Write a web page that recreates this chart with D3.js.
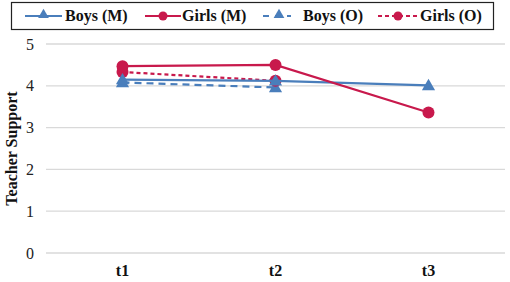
<!DOCTYPE html>
<html>
<head>
<meta charset="utf-8">
<script src="https://cdn.jsdelivr.net/npm/d3@7"></script>
<style>
  body { margin: 0; background: #fff; }
</style>
</head>
<body>
<div id="chart"></div>
<script>
// data
const times = ["t1", "t2", "t3"];
const yTicks = [0, 1, 2, 3, 4, 5];
const boysM = [4.15, 4.12, 4.01];
const girlsM = [4.47, 4.50, 3.36];
const boysO = [4.08, 3.96];
const girlsO = [4.33, 4.12];

const blue = "#4a7ebb", red = "#c8194c";
const serif = "'Liberation Serif', 'Times New Roman', serif";

const series = [
  {name: "Boys (M)", values: boysM, color: blue, dash: null, mark: "tri"},
  {name: "Girls (M)", values: girlsM, color: red, dash: null, mark: "circle"},
  {name: "Boys (O)", values: boysO, color: blue, dash: "7,5", mark: "tri"},
  {name: "Girls (O)", values: girlsO, color: red, dash: "4,3", mark: "circle"}
];

const W = 510, H = 282;
const margin = {top: 44, right: 5, bottom: 29, left: 46};

const svg = d3.select("#chart").append("svg")
  .attr("width", W).attr("height", H);

const x = d3.scaleBand().domain(times).range([margin.left, W - margin.right]);
const y = d3.scaleLinear().domain([0, 5]).range([H - margin.bottom, margin.top]);

// gridlines
svg.append("g")
  .selectAll("line")
  .data(yTicks)
  .join("line")
    .attr("x1", margin.left).attr("x2", W - margin.right)
    .attr("y1", d => y(d)).attr("y2", d => y(d))
    .attr("stroke", "#d9d9d9").attr("stroke-width", 1.3);

// y axis
const yAxis = svg.append("g")
  .attr("transform", `translate(${margin.left - 12},0)`)
  .call(d3.axisLeft(y).tickValues(yTicks).tickFormat(d3.format("d")).tickSize(0).tickPadding(0));
yAxis.select(".domain").remove();
yAxis.selectAll("text").style("font", `16px ${serif}`).attr("fill", "#222");

// x axis
const xAxis = svg.append("g")
  .attr("transform", `translate(0,${H - margin.bottom})`)
  .call(d3.axisBottom(x).tickSize(0).tickPadding(12));
xAxis.select(".domain").remove();
xAxis.selectAll("text").style("font", `bold 16px ${serif}`).attr("fill", "#111");

// y title
svg.append("text")
  .attr("transform", `translate(17,${y(2.5)}) rotate(-90)`)
  .attr("text-anchor", "middle")
  .style("font", `bold 16px ${serif}`).attr("fill", "#111")
  .text("Teacher Support");

const line = d3.line()
  .x((d, i) => x(times[i]) + x.bandwidth() / 2)
  .y(d => y(d));

const triangle = d3.symbol().type(d3.symbolTriangle).size(75);

function drawMarker(g, mark, color) {
  if (mark === "circle") {
    g.append("circle").attr("r", 6).attr("fill", color);
  } else {
    g.append("path").attr("d", triangle).attr("fill", color).attr("transform", "translate(0,1)");
  }
}

// draw order: dashed first, solid on top
[series[2], series[3], series[0], series[1]].forEach(s => {
  svg.append("path")
    .datum(s.values)
    .attr("d", line)
    .attr("fill", "none")
    .attr("stroke", s.color)
    .attr("stroke-width", 2.2)
    .attr("stroke-dasharray", s.dash);
  s.values.forEach((v, i) => {
    const g = svg.append("g")
      .attr("transform", `translate(${x(times[i]) + x.bandwidth() / 2},${y(v)})`);
    drawMarker(g, s.mark, s.color);
  });
});

// legend
const legend = svg.append("g");
legend.append("rect")
  .attr("x", 11.5).attr("y", 2.5).attr("width", 482).attr("height", 27)
  .attr("fill", "#fff").attr("stroke", "#222").attr("stroke-width", 1.2);

const legendPos = [
  {lx: 25, lw: 37, tx: 65},
  {lx: 145, lw: 36, tx: 182},
  {lx: 263, lw: 28, tx: 303},
  {lx: 378, lw: 40, tx: 420}
];

series.forEach((s, i) => {
  const p = legendPos[i];
  const ly = 16;
  legend.append("line")
    .attr("x1", p.lx).attr("x2", p.lx + p.lw)
    .attr("y1", ly).attr("y2", ly)
    .attr("stroke", s.color).attr("stroke-width", 2.2)
    .attr("stroke-dasharray", s.dash ? (s.mark === "tri" ? "6,6" : "4,3") : null);
  const g = legend.append("g")
    .attr("transform", `translate(${p.lx + p.lw / 2 + (s.mark === "tri" && s.dash ? 2 : 0)},${ly})`);
  if (s.mark === "circle") {
    g.append("circle").attr("r", 4.5).attr("fill", s.color);
  } else {
    g.append("path").attr("d", d3.symbol().type(d3.symbolTriangle).size(50)).attr("fill", s.color)
      .attr("transform", "translate(0,-1)");
  }
  legend.append("text")
    .attr("x", p.tx).attr("y", ly + 5)
    .style("font", `bold 16px ${serif}`).attr("fill", "#111")
    .text(s.name);
});
</script>
</body>
</html>
